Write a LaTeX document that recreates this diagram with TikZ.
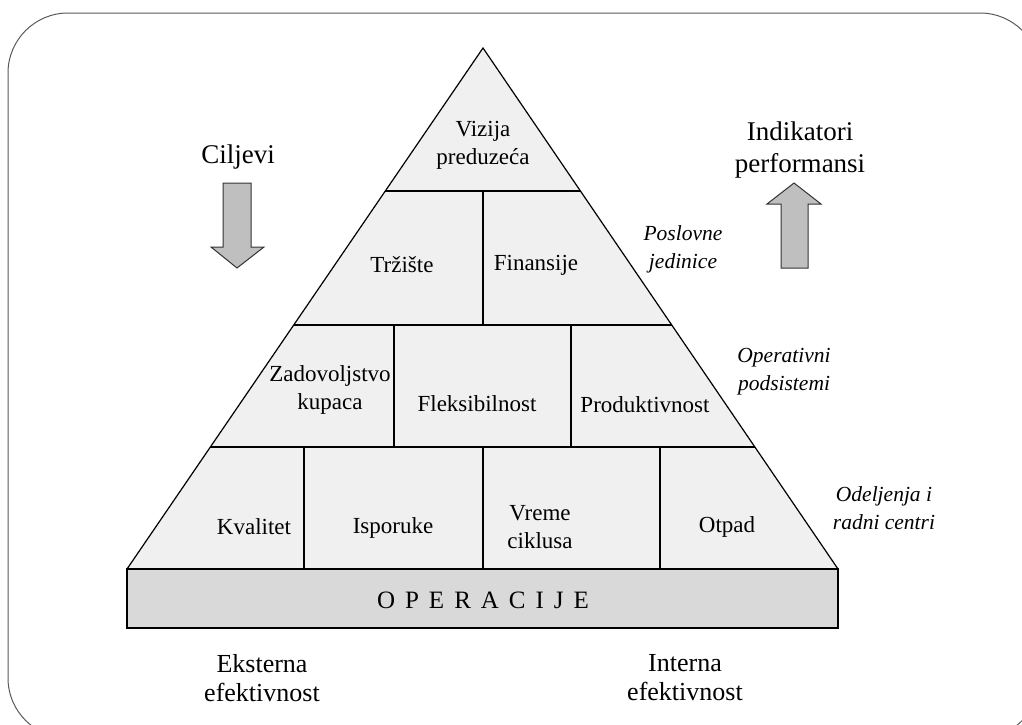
\documentclass[tikz,border=0pt]{standalone}
\usepackage{fontspec}
\setmainfont{Liberation Serif}
\usetikzlibrary{calc}

\newcommand{\spacedword}[1]{\def\sep{\hspace{10pt}}#1}

\tikzset{
  frameline/.style={draw=black!65, line width=1pt},
  pyr/.style={draw=black, line width=1.2pt, line join=miter},
  cell/.style={font=\fontsize{23}{28}\selectfont, align=center, inner sep=0pt},
  levellabel/.style={font=\fontsize{21.5}{28}\selectfont\itshape, align=center, inner sep=0pt},
  biglabel/.style={font=\fontsize{27}{32}\selectfont, align=center, inner sep=0pt},
  sidelabel/.style={font=\fontsize{26}{29}\selectfont, align=center, inner sep=0pt},
  flowarrow/.style={draw=black!80, line width=1pt, fill=black!25, line join=miter},
}

\begin{document}
\begin{tikzpicture}[x=1pt, y=-1pt]
\useasboundingbox (0,0) rectangle (1022,724);

% outer frame, partly running off the page
\begin{scope}
  \clip (0,0) rectangle (1022,724);
  \draw[frameline, rounded corners=60pt] (8,13) rectangle (1040,738);
\end{scope}

% pyramid corners
\coordinate (apex) at (483,48);
\coordinate (bl) at (127,569);
\coordinate (br) at (838,569);

% tier boundaries on the slanted sides
\coordinate (l1) at ($(apex)!0.2745!(bl)$);
\coordinate (r1) at ($(apex)!0.2745!(br)$);
\coordinate (l2) at ($(apex)!0.5317!(bl)$);
\coordinate (r2) at ($(apex)!0.5317!(br)$);
\coordinate (l3) at ($(apex)!0.7658!(bl)$);
\coordinate (r3) at ($(apex)!0.7658!(br)$);

% pyramid body
\fill[black!6] (apex) -- (bl) -- (br) -- cycle;
\draw[pyr] (l1) -- (r1);
\draw[pyr] (l2) -- (r2);
\draw[pyr] (l3) -- (r3);
% vertical dividers
\draw[pyr] (483,191) -- (483,325);
\draw[pyr] (394,325) -- (394,447);
\draw[pyr] (571,325) -- (571,447);
\draw[pyr] (304,447) -- (304,569);
\draw[pyr] (483,447) -- (483,569);
\draw[pyr] (660,447) -- (660,569);
\draw[pyr] (apex) -- (bl) -- (br) -- cycle;

% base slab
\draw[pyr, fill=black!15] (127,569) rectangle (838,628);
\node[font=\fontsize{25}{28}\selectfont, inner sep=0pt] (ops) at (483,600)
  {\spacedword{O\sep P\sep E\sep R\sep A\sep C\sep I\sep J\sep E}};

% cell texts
\node[cell] (vizija) at (483,145) {Vizija\\preduzeća};
\node[cell] (trziste) at (402,265) {Tržište};
\node[cell] (finansije) at (536,265) {Finansije};
\node[cell] (zadovoljstvo) at (330,390) {Zadovoljstvo\\kupaca};
\node[cell] (fleksibilnost) at (477,404) {Fleksibilnost};
\node[cell] (produktivnost) at (645,405) {Produktivnost};
\node[cell] (kvalitet) at (254,527) {Kvalitet};
\node[cell] (isporuke) at (393,528) {Isporuke};
\node[cell] (vreme) at (540,527) {Vreme\\ciklusa};
\node[cell] (otpad) at (727,527) {Otpad};

% level labels
\node[levellabel] (poslovne) at (683,249) {Poslovne\\jedinice};
\node[levellabel] (operativni) at (784,372) {Operativni\\podsistemi};
\node[levellabel] (odeljenja) at (884,508) {Odeljenja i\\radni centri};

% goals and indicators
\node[biglabel] (ciljevi) at (238,157) {Ciljevi};
\node[biglabel] (indikatori) at (800,150) {Indikatori\\performansi};

\draw[flowarrow] (223,183) -- (251,183) -- (251,247) -- (264,247) -- (237,268)
  -- (211,247) -- (223,247) -- cycle;
\draw[flowarrow] (781,268) -- (808,268) -- (808,204) -- (821,204) -- (794,183)
  -- (767,204) -- (781,204) -- cycle;

% effectiveness labels
\node[sidelabel] (eksterna) at (262,678) {Eksterna\\efektivnost};
\node[sidelabel] (interna) at (685,678) {Interna\\efektivnost};
\end{tikzpicture}
\end{document}
